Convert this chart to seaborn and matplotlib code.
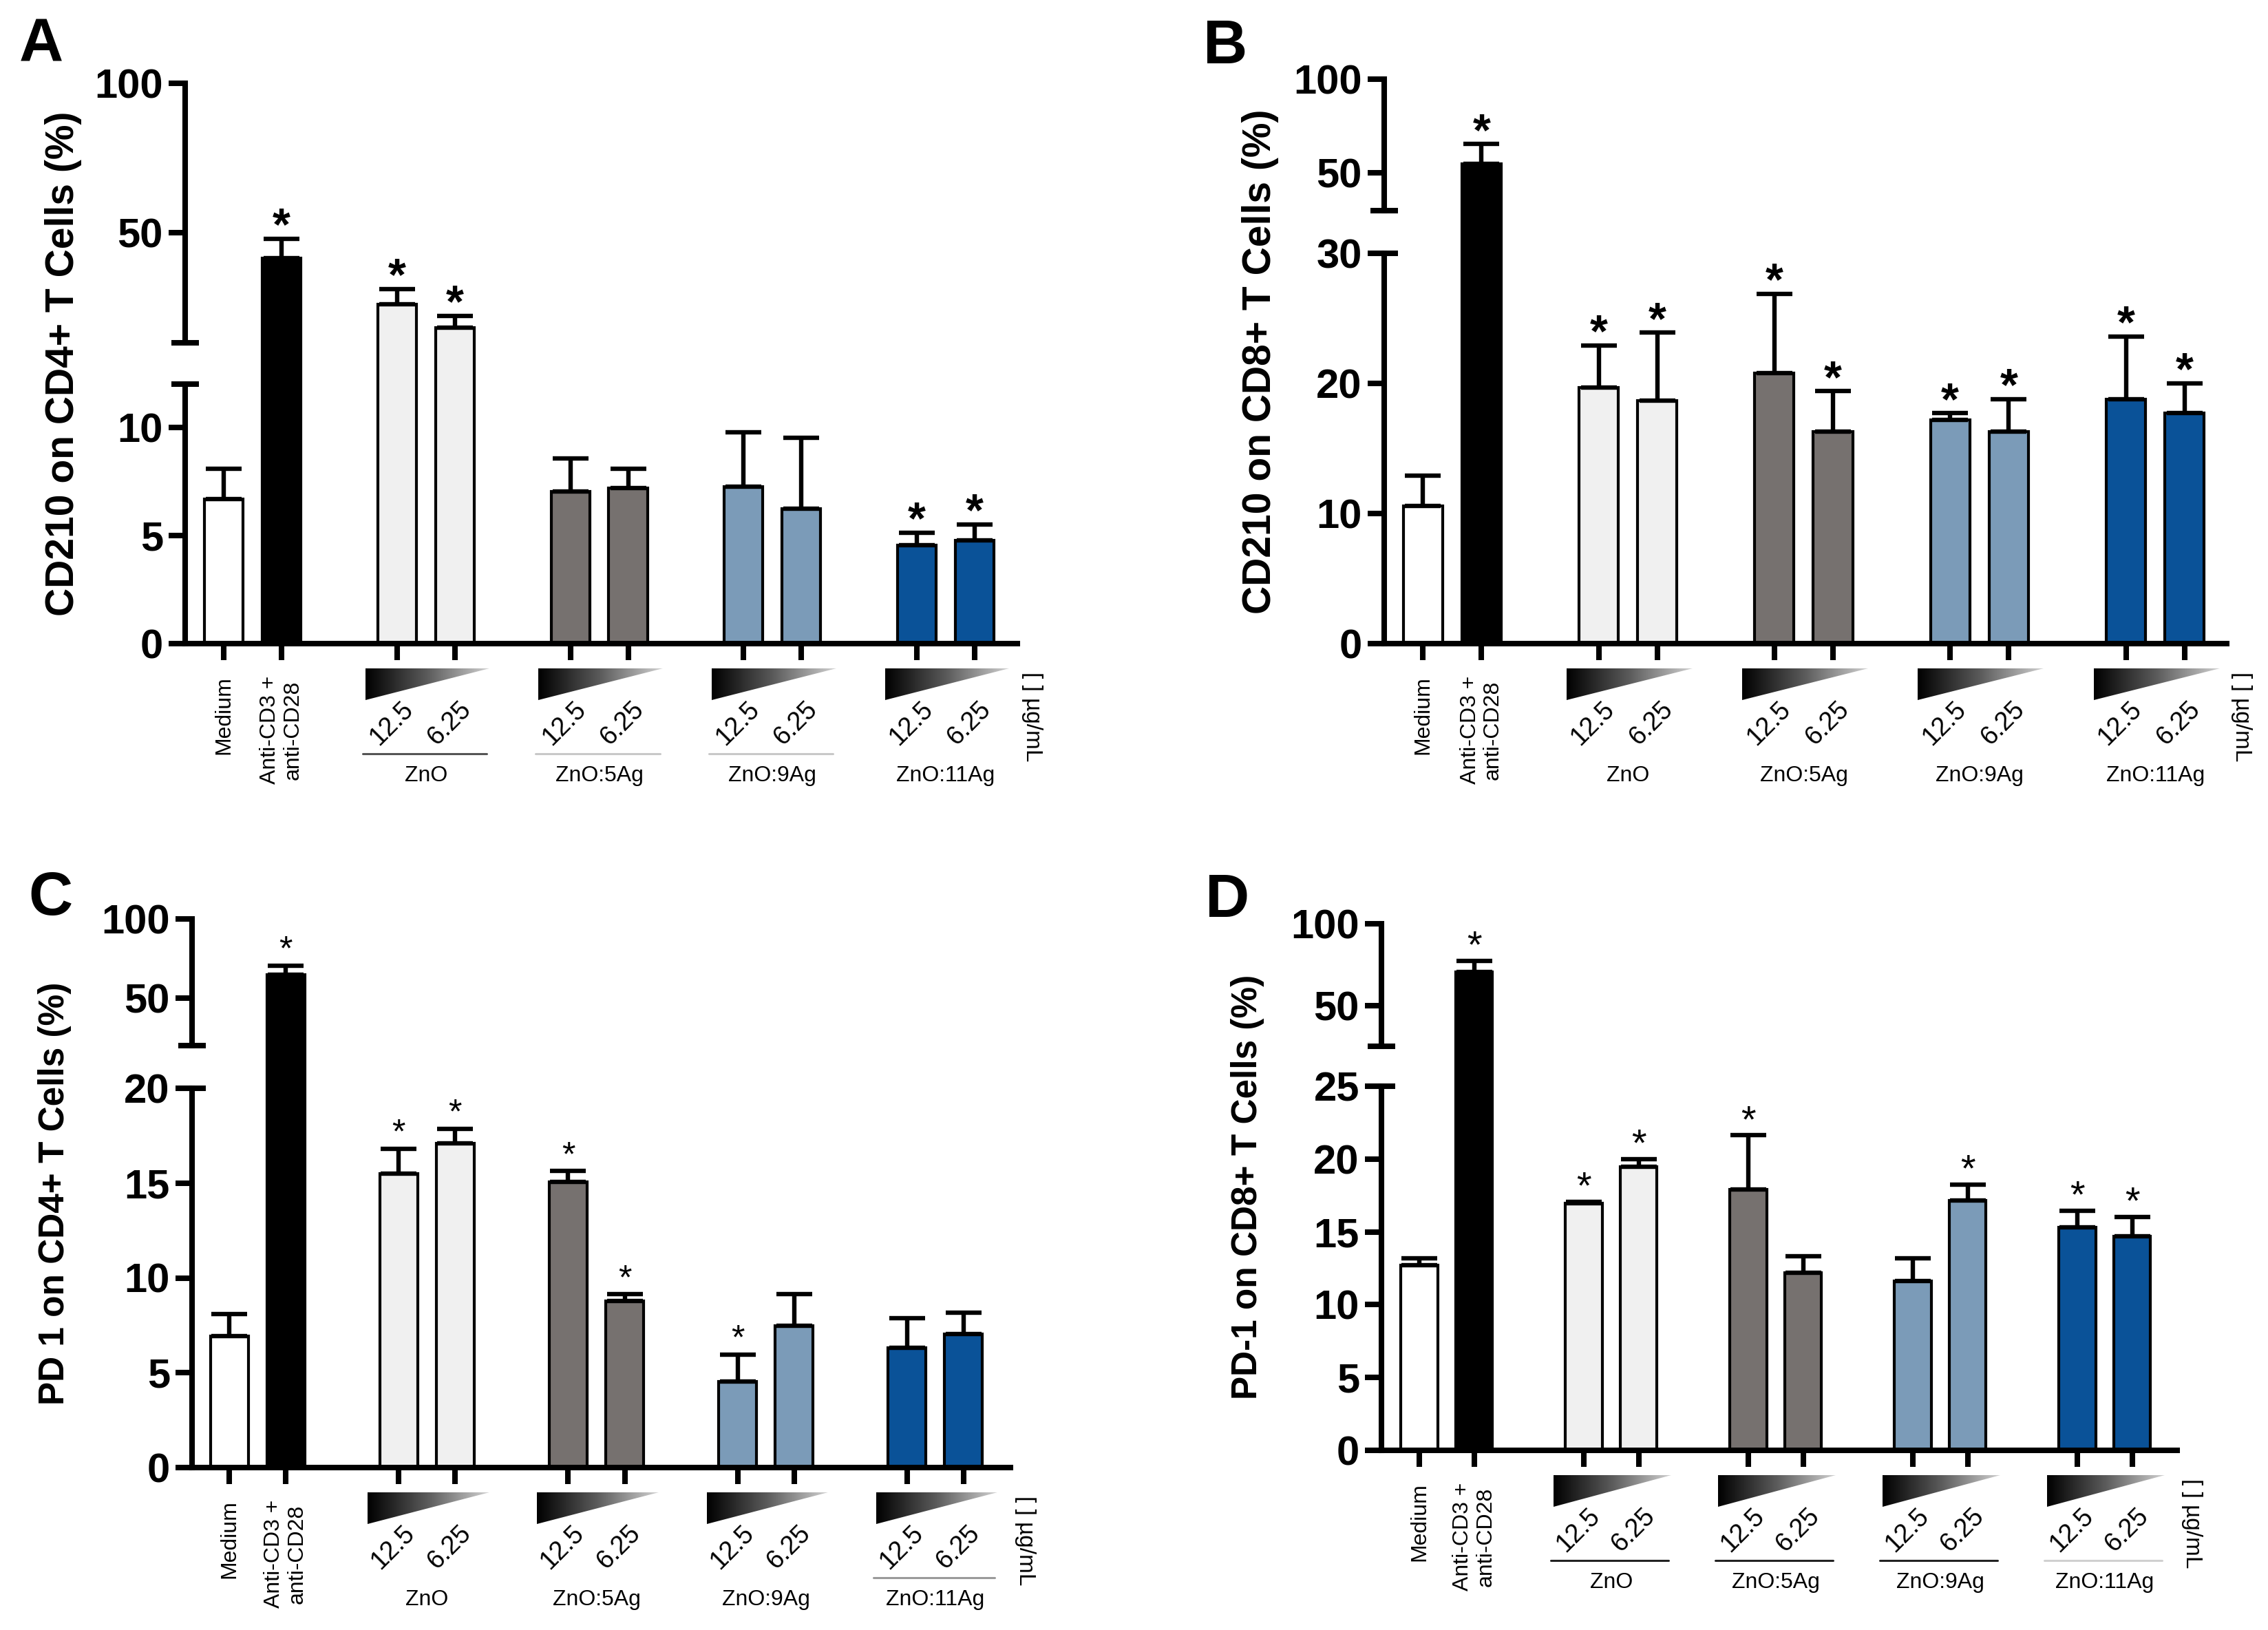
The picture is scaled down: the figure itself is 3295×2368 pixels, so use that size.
import numpy as np
import pandas as pd
import matplotlib
matplotlib.use("Agg")
import matplotlib.pyplot as plt
import seaborn as sns
from matplotlib.colors import LinearSegmentedColormap
from matplotlib.transforms import blended_transform_factory

# ---------------- data ----------------
controls = ["Medium", "Anti-CD3 +\nanti-CD28"]
groups = ["ZnO", "ZnO:5Ag", "ZnO:9Ag", "ZnO:11Ag"]
doses = ["12.5", "6.25"]
unit_label = "[ ] µg/mL"
panel_letters = ["A", "B", "C", "D"]
ylabels = ["CD210 on CD4+ T Cells (%)", "CD210 on CD8+ T Cells (%)",
           "PD 1 on CD4+ T Cells (%)", "PD-1 on CD8+ T Cells (%)"]

# order: Medium, Anti-CD3, ZnO 12.5, ZnO 6.25, 5Ag 12.5, 5Ag 6.25, 9Ag 12.5, 9Ag 6.25, 11Ag 12.5, 11Ag 6.25
a_mean = [6.7, 41.3, 25.9, 18.1, 7.05, 7.2, 7.25, 6.23, 4.54, 4.76]
a_sem = [1.4, 6.6, 5.2, 3.9, 1.52, 0.87, 2.53, 3.29, 0.58, 0.74]
a_sig = [0, 1, 1, 1, 0, 0, 0, 0, 1, 1]

b_mean = [10.6, 54.9, 19.7, 18.7, 20.8, 16.3, 17.2, 16.3, 18.8, 17.7]
b_sem = [2.3, 10.5, 3.2, 5.2, 6.1, 3.1, 0.5, 2.5, 4.8, 2.3]
b_sig = [0, 1, 1, 1, 1, 1, 1, 1, 1, 1]

c_mean = [6.93, 64.9, 15.5, 17.1, 15.05, 8.8, 4.55, 7.46, 6.32, 7.04]
c_sem = [1.17, 5.6, 1.3, 0.76, 0.58, 0.33, 1.4, 1.67, 1.56, 1.11]
c_sig = [0, 1, 1, 1, 1, 1, 1, 0, 0, 0]

d_mean = [12.73, 70.6, 16.96, 19.48, 17.89, 12.21, 11.63, 17.16, 15.29, 14.71]
d_sem = [0.45, 6.7, 0.1, 0.52, 3.74, 1.11, 1.55, 1.08, 1.15, 1.31]
d_sig = [0, 1, 1, 1, 1, 0, 0, 1, 1, 1]

lower_ranges = [(0, 12), (0, 30), (0, 20), (0, 25)]
upper_ranges = [(13, 100), (30, 100), (20, 100), (25, 100)]
lower_ticks = [[0, 5, 10], [0, 10, 20, 30], [0, 5, 10, 15, 20], [0, 5, 10, 15, 20, 25]]
upper_ticks = [[50, 100], [50, 100], [50, 100], [50, 100]]

# ---------------- style ----------------
control_colors = ["#ffffff", "#000000"]
group_colors = ["#f0f0f0", "#76716f", "#7b9bb8", "#0a5298"]
underline_colors = [
    ["#555555", "#c8c8c8", "#c8c8c8", None],
    [None, None, None, None],
    [None, None, None, "#9a9a9a"],
    ["#222222", "#222222", "#222222", "#d0d0d0"],
]

W, H, DPI = 3295, 2368, 200
PX = 72.0 / DPI  # points per pixel

# layout in pixels: left, right, lower (bottom, top), upper (bottom, top), xlim
layouts = [
    dict(left=269, right=1478, low=(935, 558), up=(498, 121), xlim=(-0.67, 13.74),
         ylab_x=92, letter=(60, 58), ast=24, astw="bold", ylab_fs=20.5),
    dict(left=2011, right=3235, low=(935, 368), up=(306, 115), xlim=(-0.66, 13.72),
         ylab_x=1831, letter=(1780, 60), ast=24, astw="bold", ylab_fs=20.5),
    dict(left=279, right=1468, low=(2132, 1581), up=(1519, 1335), xlim=(-0.66, 13.83),
         ylab_x=80, letter=(73, 1297), ast=18, astw="normal", ylab_fs=18.5),
    dict(left=2007, right=3163, low=(2107, 1578), up=(1520, 1342), xlim=(-0.69, 13.82),
         ylab_x=1812, letter=(1783, 1300), ast=20, astw="normal", ylab_fs=18.5),
]

sns.set_theme(style="ticks")
plt.rcParams["font.family"] = ["Liberation Sans", "DejaVu Sans"]
plt.rcParams["axes.facecolor"] = "none"

grad_cmap = LinearSegmentedColormap.from_list("grad", ["#000000", "#5c5c5c", "#d2d2d2"])


def build_frame(means, sems, sig):
    names, pos, cols = [], [], []
    for i, c in enumerate(controls):
        names.append(c)
        pos.append(i)
        cols.append(control_colors[i])
    for g, gname in enumerate(groups):
        for d, dose in enumerate(doses):
            names.append(f"{gname} {dose}")
            pos.append(len(controls) + 1 + g * (len(doses) + 1) + d)
            cols.append(group_colors[g])
    return pd.DataFrame(dict(cond=names, pos=pos, mean=means, sem=sems, sig=sig, color=cols))


def draw_bars(ax, df, errors=True):
    sns.barplot(data=df, x="pos", y="mean", hue="cond",
                palette=dict(zip(df["cond"], df["color"])), saturation=1,
                native_scale=True, dodge=False, width=0.67, errorbar=None,
                edgecolor="black", linewidth=1.5, legend=False, ax=ax, zorder=2)
    if errors:
        ax.errorbar(df["pos"], df["mean"], yerr=[np.zeros(len(df)), df["sem"]],
                    fmt="none", ecolor="black", elinewidth=2.3, capsize=9.5,
                    capthick=2.3, zorder=3)


def style_axis(ax, lim, ticks, xlim, lower, df):
    ax.set_ylim(*lim)
    ax.set_yticks(ticks)
    ax.set_xlim(*xlim)
    ax.set_xlabel("")
    ax.set_ylabel("")
    ax.grid(False)
    for s in ["top", "right"]:
        ax.spines[s].set_visible(False)
    ax.spines["left"].set_linewidth(2.9)
    ax.spines["left"].set_color("black")
    ax.spines["left"].set_capstyle("projecting")
    ax.tick_params(axis="y", direction="out", length=8.6, width=2.9, pad=3,
                   labelsize=21.5, colors="black")
    for t in ax.get_yticklabels():
        t.set_fontweight("bold")
    if lower:
        ax.spines["bottom"].set_linewidth(2.9)
        ax.spines["bottom"].set_color("black")
        ax.spines["bottom"].set_capstyle("projecting")
        ax.set_xticks(df["pos"])
        ax.set_xticklabels([])
        ax.tick_params(axis="x", direction="out", length=8.6, width=2.9, colors="black")
    else:
        ax.spines["bottom"].set_visible(False)
        ax.set_xticks([])


fig = plt.figure(figsize=(W / DPI, H / DPI), dpi=DPI)

datasets = [(a_mean, a_sem, a_sig), (b_mean, b_sem, b_sig),
            (c_mean, c_sem, c_sig), (d_mean, d_sem, d_sig)]

for k, (means, sems, sig) in enumerate(datasets):
    L = layouts[k]
    df = build_frame(means, sems, sig)
    wfrac = (L["right"] - L["left"]) / W
    lo_rect = [L["left"] / W, 1 - L["low"][0] / H, wfrac, (L["low"][0] - L["low"][1]) / H]
    up_rect = [L["left"] / W, 1 - L["up"][0] / H, wfrac, (L["up"][0] - L["up"][1]) / H]
    gap_rect = [L["left"] / W, 1 - L["low"][1] / H, wfrac, (L["low"][1] - L["up"][0]) / H]

    # bars continue through the axis break
    ax_gap = fig.add_axes(gap_rect)
    draw_bars(ax_gap, df, errors=False)
    g_lo = lower_ranges[k][1]
    g_hi = max(upper_ranges[k][0], g_lo + 0.01)
    ax_gap.set_ylim(g_lo, g_hi)
    ax_gap.set_xlim(*L["xlim"])
    ax_gap.axis("off")

    ax_lo = fig.add_axes(lo_rect)
    ax_up = fig.add_axes(up_rect)
    for ax, lower in [(ax_lo, True), (ax_up, False)]:
        draw_bars(ax, df)
        style_axis(ax, lower_ranges[k] if lower else upper_ranges[k],
                   lower_ticks[k] if lower else upper_ticks[k], L["xlim"], lower, df)

    ax_w_px = L["right"] - L["left"]
    lo_h_px = L["low"][0] - L["low"][1]
    m = 20 / ax_w_px
    # break marks
    ax_lo.plot([-m, m], [1, 1], transform=ax_lo.transAxes, color="black", lw=2.9,
               clip_on=False, solid_capstyle="butt")
    ax_up.plot([-m, m], [0, 0], transform=ax_up.transAxes, color="black", lw=2.9,
               clip_on=False, solid_capstyle="butt")

    # significance asterisks
    em_px = L["ast"] / PX
    off_pt = (38 - 0.59 * em_px) * PX
    for _, r in df.iterrows():
        if not r["sig"]:
            continue
        top = r["mean"] + r["sem"]
        ax = ax_up if top > lower_ranges[k][1] else ax_lo
        ax.annotate("*", xy=(r["pos"], top), xytext=(0, off_pt), textcoords="offset points",
                    ha="center", va="baseline", fontsize=L["ast"], fontweight=L["astw"],
                    color="black", annotation_clip=False)

    # labels under the axis
    trans = blended_transform_factory(ax_lo.transData, ax_lo.transAxes)
    fy = lambda px: -px / lo_h_px
    for i, c in enumerate(controls):
        ax_lo.text(df["pos"][i], fy(47), c, rotation=90, ha="center", va="top",
                   fontsize=11.5, multialignment="center", linespacing=1.15,
                   transform=trans, color="black")
    n0 = len(controls)
    for g, gname in enumerate(groups):
        p1 = df["pos"][n0 + 2 * g]
        p2 = df["pos"][n0 + 2 * g + 1]
        x0, x1 = p1 - 0.55, p2 + 0.6
        tri = ax_lo.inset_axes([x0, fy(82), x1 - x0, fy(36) - fy(82)], transform=trans)
        im = tri.imshow(np.linspace(0, 1, 256)[None, :], cmap=grad_cmap, aspect="auto",
                        extent=[0, 1, 0, 1], interpolation="bilinear")
        poly = plt.Polygon([(0, 0), (0, 1), (1, 1)], transform=tri.transAxes)
        im.set_clip_path(poly)
        tri.set_xlim(0, 1)
        tri.set_ylim(0, 1)
        tri.axis("off")
        for d, dose in enumerate(doses):
            ax_lo.text(df["pos"][n0 + 2 * g + d] - 0.1, fy(116), dose, rotation=45,
                       rotation_mode="anchor", ha="center", va="center", fontsize=13.5,
                       transform=trans, color="black")
        uc = underline_colors[k][g]
        if uc is not None:
            ax_lo.plot([p1 - 0.6, p2 + 0.55], [fy(160), fy(160)], transform=trans,
                       color=uc, lw=1.1, clip_on=False)
        ax_lo.text((p1 + p2) / 2, fy(192), gname, ha="center", va="center",
                   fontsize=11.5, transform=trans, color="black")
    ax_lo.text(1 + 21 / ax_w_px, fy(41), unit_label, rotation=-90, ha="center", va="top",
               fontsize=12, transform=ax_lo.transAxes, color="black")

    # y label and panel letter
    mid_y = (L["low"][0] + L["up"][1]) / 2
    fig.text(L["ylab_x"] / W, 1 - mid_y / H, ylabels[k], rotation=90, ha="center",
             va="center", fontsize=L["ylab_fs"], fontweight="bold", color="black")
    lx, ly = L["letter"]
    letter_fs = 32
    base_px = ly + 0.358 * letter_fs / PX
    fig.text(lx / W, 1 - base_px / H, panel_letters[k], ha="center", va="baseline",
             fontsize=letter_fs, fontweight="bold", color="black")

fig.savefig("out.png", dpi=DPI, facecolor="white")
